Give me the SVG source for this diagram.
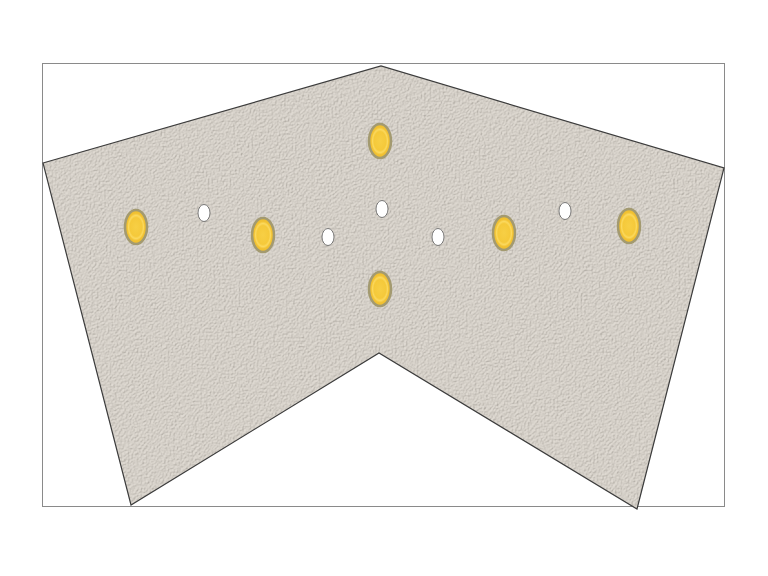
<svg xmlns="http://www.w3.org/2000/svg" width="768" height="576" viewBox="0 0 768 576">
<defs>
<filter id="tex" x="0" y="0" width="100%" height="100%" color-interpolation-filters="sRGB">
<feTurbulence type="fractalNoise" baseFrequency="0.55" numOctaves="3" seed="5" result="n"/>
<feDiffuseLighting in="n" surfaceScale="1.6" diffuseConstant="1" lighting-color="#ffffff" result="lit">
<feDistantLight azimuth="225" elevation="55"/>
</feDiffuseLighting>
<feColorMatrix in="lit" type="matrix" values="0.26 0 0 0 0.62  0 0.26 0 0 0.6  0 0 0.26 0 0.57  0 0 0 0 1" result="c"/>
<feComposite in="c" in2="SourceGraphic" operator="in"/>
</filter>
<radialGradient id="gold" cx="0.5" cy="0.5" r="0.5">
<stop offset="0" stop-color="#f7cf45"/>
<stop offset="0.55" stop-color="#f5c93a"/>
<stop offset="0.68" stop-color="#fbd95e"/>
<stop offset="0.8" stop-color="#f2c233"/>
<stop offset="1" stop-color="#e9bb30"/>
</radialGradient>
<style>
.frame{fill:#ffffff;stroke:#8a8a8a;stroke-width:1}
.wall{fill:#d6d1c9}
.edge{fill:none;stroke:#3c3c3c;stroke-width:1.2}
.lamp{fill:url(#gold);stroke:#a39a70;stroke-width:2.5}
.hole{fill:#ffffff;stroke:#5a5a5a;stroke-width:0.8}
</style>
</defs>
<rect class="frame" x="42.5" y="63.5" width="682" height="443"/>
<g id="ceiling">
<polygon class="wall" filter="url(#tex)" points="43,163 381,66 724,168 637,509 379,353 131,505"/>
<polygon class="edge" points="43,163 381,66 724,168 637,509 379,353 131,505"/>
</g>
<g id="lamps">
<ellipse class="lamp" cx="136" cy="227" rx="11" ry="17"/>
<ellipse class="lamp" cx="263" cy="235" rx="11" ry="17"/>
<ellipse class="lamp" cx="380" cy="141" rx="11" ry="17"/>
<ellipse class="lamp" cx="380" cy="289" rx="11" ry="17"/>
<ellipse class="lamp" cx="504" cy="233" rx="11" ry="17"/>
<ellipse class="lamp" cx="629" cy="226" rx="11" ry="17"/>
</g>
<g id="holes">
<ellipse class="hole" cx="204" cy="213" rx="6" ry="8.5"/>
<ellipse class="hole" cx="328" cy="237" rx="6" ry="8.5"/>
<ellipse class="hole" cx="382" cy="209" rx="6" ry="8.5"/>
<ellipse class="hole" cx="438" cy="237" rx="6" ry="8.5"/>
<ellipse class="hole" cx="565" cy="211" rx="6" ry="8.5"/>
</g>
</svg>
